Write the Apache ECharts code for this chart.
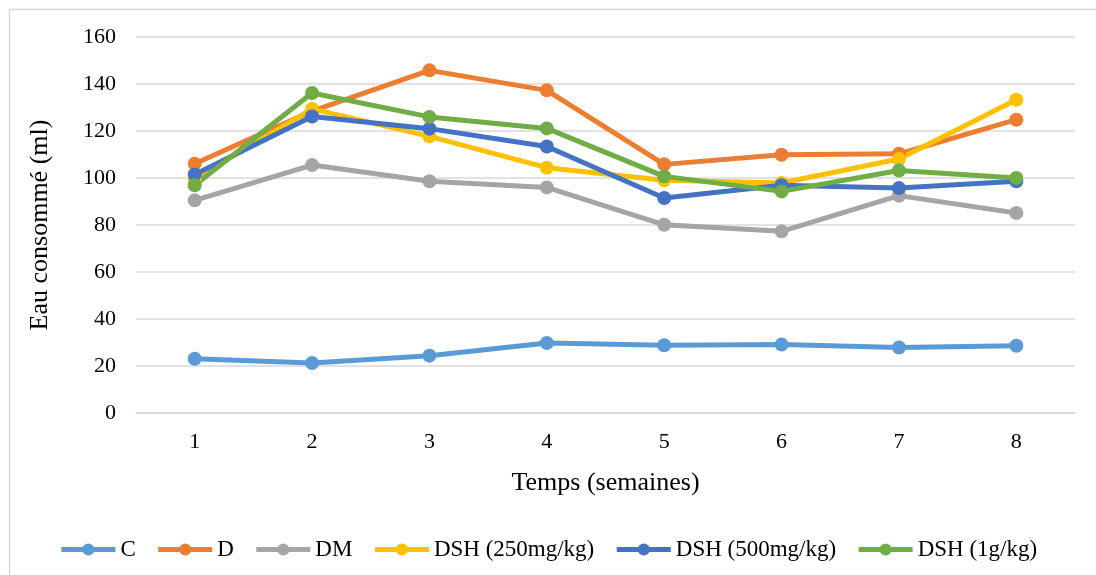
<!DOCTYPE html>
<html>
<head>
<meta charset="utf-8">
<script src="https://cdn.jsdelivr.net/npm/echarts@6/dist/echarts.min.js"></script>
<style>
  html, body { margin: 0; padding: 0; background: #fff; }
  #main { width: 1096px; height: 575px; }
</style>
</head>
<body>
<div id="main"></div>
<script>
var weeks = ['1', '2', '3', '4', '5', '6', '7', '8'];
var seriesNames = ['C', 'D', 'DM', 'DSH (250mg/kg)', 'DSH (500mg/kg)', 'DSH (1g/kg)'];
var colors = ['#5B9BD5', '#ED7D31', '#A5A5A5', '#FFC000', '#4472C4', '#70AD47'];

var C = [23.1, 21.3, 24.4, 29.8, 28.8, 29.1, 27.9, 28.6];
var D = [106.1, 128.5, 145.8, 137.3, 105.8, 109.9, 110.3, 124.8];
var DM = [90.5, 105.5, 98.6, 96.0, 80.1, 77.3, 92.5, 85.1];
var DSH250 = [99.5, 129.4, 117.7, 104.4, 99.0, 97.9, 108.1, 133.3];
var DSH500 = [101.5, 126.2, 121.0, 113.4, 91.5, 96.9, 95.7, 98.6];
var DSH1g = [96.9, 136.2, 126.0, 121.1, 100.7, 94.3, 103.2, 100.0];

var allData = [C, D, DM, DSH250, DSH500, DSH1g];

var chart = echarts.init(document.getElementById('main'));

var series = seriesNames.map(function (name, i) {
  return {
    name: name,
    type: 'line',
    data: allData[i],
    symbol: 'circle',
    symbolSize: 14,
    lineStyle: { width: 5, color: colors[i] },
    itemStyle: { color: colors[i] },
    emphasis: { disabled: true },
    animation: false
  };
});

chart.setOption({
  color: colors,
  textStyle: { fontFamily: 'Liberation Serif' },
  graphic: [{
    type: 'rect',
    left: 7,
    top: 7,
    shape: { width: 1200, height: 700 },
    style: { fill: 'none', stroke: '#d9d9d9', lineWidth: 1.5 },
    silent: true
  }],
  grid: {
    left: 136,
    right: 21,
    top: 37,
    bottom: 162
  },
  legend: {
    bottom: 9,
    left: 'center',
    itemWidth: 54,
    itemHeight: 15,
    itemGap: 20,
    lineStyle: { width: 5 },
    textStyle: { fontSize: 23, color: '#000', fontFamily: 'Liberation Serif' },
    data: seriesNames
  },
  xAxis: {
    type: 'category',
    data: weeks,
    boundaryGap: true,
    name: 'Temps (semaines)',
    nameLocation: 'middle',
    nameGap: 57,
    nameTextStyle: { fontSize: 26, color: '#000', fontFamily: 'Liberation Serif' },
    axisLine: { lineStyle: { color: '#d9d9d9', width: 1.5 } },
    axisTick: { show: false },
    axisLabel: { fontSize: 22, color: '#000', margin: 18 }
  },
  yAxis: {
    type: 'value',
    min: 0,
    max: 160,
    interval: 20,
    name: 'Eau consommé (ml)',
    nameLocation: 'middle',
    nameGap: 83,
    nameTextStyle: { fontSize: 26, color: '#000', fontFamily: 'Liberation Serif' },
    axisLine: { show: false },
    axisTick: { show: false },
    axisLabel: { fontSize: 22, color: '#000', margin: 20 },
    splitLine: { lineStyle: { color: '#d9d9d9', width: 1.5 } }
  },
  series: series
});
</script>
</body>
</html>
